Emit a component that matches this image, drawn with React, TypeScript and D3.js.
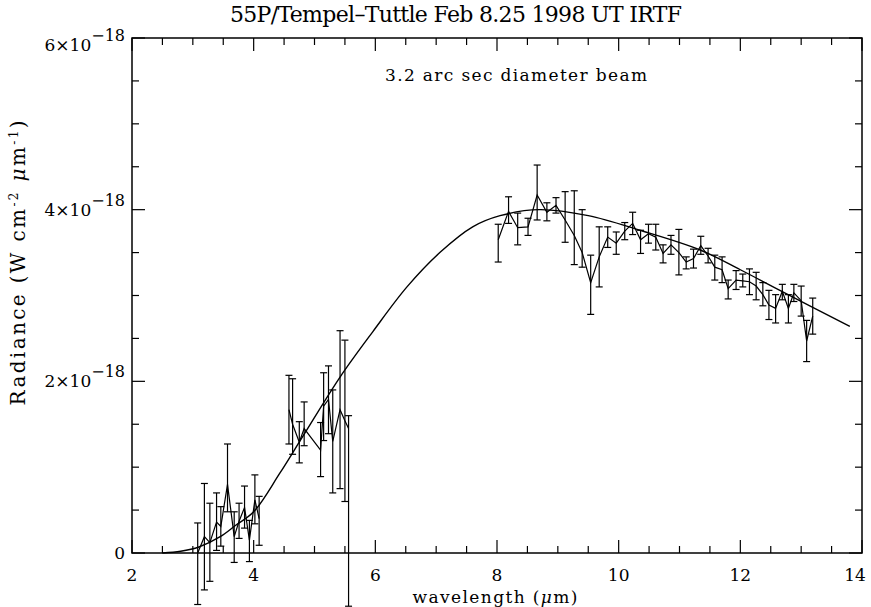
import React from "react";
import * as d3 from "d3";

// spectrum segments: wavelength (um), radiance (1e-18 W cm^-2 um^-1), error bar low / high
const WAVE_A = [3.08, 3.19, 3.28, 3.39, 3.46, 3.57, 3.68, 3.76, 3.85, 3.93, 4.02, 4.09];
const RAD_A = [0.0, 0.19, 0.12, 0.36, 0.31, 0.8, 0.19, 0.37, 0.53, 0.15, 0.62, 0.4];
const LO_A = [-0.6, -0.43, -0.33, 0.03, 0.08, 0.48, -0.11, 0.17, 0.29, -0.1, 0.34, 0.09];
const HI_A = [0.35, 0.81, 0.58, 0.7, 0.54, 1.27, 0.48, 0.58, 0.78, 0.38, 0.91, 0.66];

const WAVE_B = [4.58, 4.64, 4.75, 4.83, 5.1, 5.15, 5.23, 5.3, 5.42, 5.5, 5.56];
const RAD_B = [1.67, 1.5, 1.29, 1.45, 1.2, 1.71, 1.79, 1.3, 1.67, 1.54, 1.45];
const LO_B = [1.27, 1.15, 1.05, 1.25, 0.89, 1.31, 1.39, 0.7, 0.75, 0.6, -0.62];
const HI_B = [2.07, 2.03, 1.53, 1.76, 1.52, 2.1, 2.18, 1.9, 2.59, 2.48, 1.6];

const WAVE_C = [
  8.02, 8.19, 8.34, 8.51, 8.66, 8.82, 8.97, 9.12, 9.27, 9.4,
  9.54, 9.68, 9.82, 9.96, 10.1, 10.23, 10.36, 10.49, 10.61, 10.73,
  10.86, 10.99, 11.11, 11.23, 11.35, 11.47, 11.58, 11.7, 11.8, 11.93,
  12.04, 12.15, 12.26, 12.37, 12.47, 12.58, 12.69, 12.79, 12.88, 13.0,
  13.09, 13.19,
];
const RAD_C = [
  3.65, 3.98, 3.79, 3.8, 4.17, 3.97, 4.05, 3.88, 3.7, 3.5,
  3.15, 3.45, 3.68, 3.61, 3.75, 3.84, 3.65, 3.72, 3.68, 3.49,
  3.59, 3.5, 3.39, 3.43, 3.58, 3.46, 3.33, 3.3, 3.08, 3.18,
  3.17, 3.16, 3.11, 3.01, 2.89, 2.85, 3.05, 2.85, 3.03, 2.94,
  2.47, 2.76,
];
const LO_C = [
  3.39, 3.84, 3.59, 3.7, 3.88, 3.87, 3.96, 3.62, 3.36, 3.33,
  2.78, 3.1, 3.56, 3.48, 3.65, 3.71, 3.49, 3.61, 3.53, 3.38,
  3.48, 3.24, 3.31, 3.32, 3.48, 3.38, 3.18, 3.15, 2.96, 3.07,
  3.1, 3.01, 2.95, 2.88, 2.72, 2.68, 2.95, 2.68, 2.93, 2.76,
  2.23, 2.55,
];
const HI_C = [
  3.83, 4.15, 3.96, 3.9, 4.52, 4.08, 4.14, 4.21, 4.22, 4.0,
  3.47, 3.8, 3.8, 3.74, 3.85, 3.97, 3.76, 3.83, 3.83, 3.59,
  3.7, 3.77, 3.45, 3.54, 3.69, 3.55, 3.47, 3.45, 3.18, 3.29,
  3.25, 3.31, 3.27, 3.15, 3.06, 3.01, 3.13, 3.01, 3.13, 3.11,
  2.71, 2.97,
];

// model curve
const CURVE_WAVE = [2.5, 2.8, 3.1, 3.45, 3.7, 4.0, 4.43, 4.8, 5.42, 5.96, 6.52, 7.06, 7.6, 8.05, 8.7, 9.5, 10.35, 11.34, 12.0, 12.65, 13.8];
const CURVE_RAD = [0.0, 0.02, 0.07, 0.19, 0.32, 0.48, 0.93, 1.35, 2.05, 2.58, 3.1, 3.5, 3.8, 3.93, 4.0, 3.93, 3.76, 3.53, 3.3, 3.06, 2.64];

const X_TICKS = [2, 4, 6, 8, 10, 12, 14];
const Y_TICKS = [0, 2, 4, 6];

const W = 871;
const H = 607;
const left = 132, right = 862, top = 38, bottom = 553;

export default function App() {
  const x = d3.scaleLinear().domain([2, 14]).range([left, right]);
  const y = d3.scaleLinear().domain([0, 6]).range([bottom, top]);

  const segments = [
    { w: WAVE_A, r: RAD_A, lo: LO_A, hi: HI_A },
    { w: WAVE_B, r: RAD_B, lo: LO_B, hi: HI_B },
    { w: WAVE_C, r: RAD_C, lo: LO_C, hi: HI_C },
  ];

  const curvePath = d3
    .line<number>()
    .x((d) => x(d))
    .y((_, i) => y(CURVE_RAD[i]))
    .curve(d3.curveCatmullRom)(CURVE_WAVE);

  const minorX = d3.range(2, 14.01, 0.5);
  const minorY = d3.range(0, 6.01, 0.5);
  const font = "DejaVu Serif";

  return (
    <svg width={W} height={H} style={{ position: "absolute", left: 0, top: 0, background: "#fff" }} fontFamily={font}>
      <rect x={0} y={0} width={W} height={H} fill="#fff" />
      {/* frame */}
      <rect x={left} y={top} width={right - left} height={bottom - top} fill="none" stroke="#000" strokeWidth={1.5} />
      {minorX.map((t) => {
        const len = X_TICKS.includes(t) ? 13 : 7;
        return (
          <g key={"x" + t} stroke="#000" strokeWidth={1.2}>
            <line x1={x(t)} x2={x(t)} y1={bottom} y2={bottom - len} />
            <line x1={x(t)} x2={x(t)} y1={top} y2={top + len} />
          </g>
        );
      })}
      {minorY.map((t) => {
        const len = Y_TICKS.includes(t) ? 13 : 7;
        return (
          <g key={"y" + t} stroke="#000" strokeWidth={1.2}>
            <line x1={left} x2={left + len} y1={y(t)} y2={y(t)} />
            <line x1={right} x2={right - len} y1={y(t)} y2={y(t)} />
          </g>
        );
      })}
      {/* x tick labels */}
      {X_TICKS.map((t) => (
        <text key={"xl" + t} x={Math.min(x(t), 855)} y={581} fontSize={17} textAnchor="middle" fill="#000">
          {t}
        </text>
      ))}
      {/* y tick labels */}
      {Y_TICKS.map((t) => {
        const cy = Math.max(y(t), 45);
        if (t === 0)
          return (
            <text key="yl0" x={125} y={cy + 6} fontSize={17} textAnchor="end" fill="#000">
              0
            </text>
          );
        return (
          <text key={"yl" + t} x={125} y={cy + 6} fontSize={17} textAnchor="end" fill="#000">
            {t}×10
            <tspan dy={-10} fontSize={16}>−18</tspan>
          </text>
        );
      })}
      {/* axis titles */}
      <text x={495} y={603} fontSize={17} textAnchor="middle" fill="#000" textLength={165} lengthAdjust="spacing">
        wavelength (<tspan fontStyle="italic">μ</tspan>m)
      </text>
      <text transform="translate(25,263) rotate(-90)" fontSize={20} textAnchor="middle" fill="#000" textLength={285} lengthAdjust="spacing">
        Radiance (W cm<tspan dy={-7} fontSize={12}>-2</tspan>
        <tspan dy={7}> </tspan>
        <tspan fontStyle="italic">μ</tspan>m<tspan dy={-7} fontSize={12}>-1</tspan>
        <tspan dy={7}>)</tspan>
      </text>
      <text x={456} y={22} fontSize={22} textAnchor="middle" fill="#000" textLength={452} lengthAdjust="spacing">
        55P/Tempel–Tuttle Feb 8.25 1998 UT IRTF
      </text>
      <text x={516} y={81} fontSize={17} textAnchor="middle" fill="#000" textLength={262} lengthAdjust="spacing">
        3.2 arc sec diameter beam
      </text>
      {/* model curve */}
      <path d={curvePath ?? ""} fill="none" stroke="#000" strokeWidth={1.4} />
      {/* data with error bars */}
      {segments.map((s, si) => {
        const path = d3
          .line<number>()
          .x((d) => x(d))
          .y((_, i) => y(s.r[i]))(s.w);
        return (
          <g key={"s" + si}>
            <path d={path ?? ""} fill="none" stroke="#000" strokeWidth={1.2} />
            {s.w.map((w, i) => (
              <g key={i} stroke="#000" strokeWidth={1.2}>
                <line x1={x(w)} x2={x(w)} y1={y(s.lo[i])} y2={y(s.hi[i])} />
                <line x1={x(w) - 3.5} x2={x(w) + 3.5} y1={y(s.lo[i])} y2={y(s.lo[i])} />
                <line x1={x(w) - 3.5} x2={x(w) + 3.5} y1={y(s.hi[i])} y2={y(s.hi[i])} />
              </g>
            ))}
          </g>
        );
      })}
    </svg>
  );
}
